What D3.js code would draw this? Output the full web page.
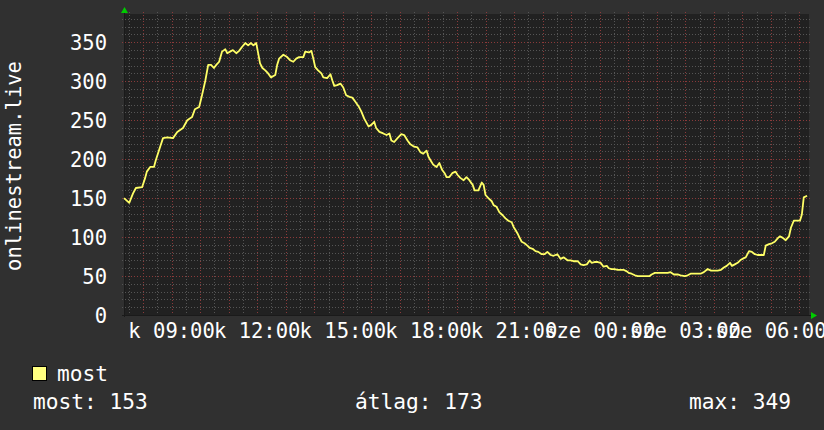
<!DOCTYPE html>
<html>
<head>
<meta charset="utf-8">
<script src="https://cdn.jsdelivr.net/npm/d3@7/dist/d3.min.js"></script>
<style>
html,body{margin:0;padding:0;background:#303030;}
svg{display:block;}
text{font-family:"DejaVu Sans Mono",monospace;fill:#ffffff;}
</style>
</head>
<body>
<svg id="chart" width="824" height="430"></svg>
<script>
// ---- data ----
const minutesFromStart = [0,11,19,25,38,44,48,55,63,67,76,82,91,103,112,124,133,143,149,158,164,171,177,183,189,194,200,206,213,217,223,229,236,242,248,255,261,267,272,278,282,286,291,297,303,309,318,322,326,335,343,349,356,362,368,377,381,389,394,398,402,408,415,419,427,434,438,442,448,455,461,467,474,480,486,493,499,505,514,520,526,530,537,545,552,558,562,568,575,583,589,596,602,610,617,623,629,636,640,644,650,657,663,669,674,678,684,690,697,701,707,714,720,726,733,737,745,752,756,760,766,773,777,783,789,796,802,808,815,819,823,827,831,836,842,848,853,859,865,871,878,884,890,897,903,911,918,924,933,939,945,954,960,966,973,979,983,989,996,1002,1008,1015,1019,1025,1031,1038,1044,1050,1057,1061,1067,1074,1080,1086,1093,1099,1105,1109,1116,1122,1128,1135,1143,1149,1156,1164,1170,1179,1185,1191,1198,1206,1212,1219,1227,1234,1240,1248,1255,1261,1267,1274,1278,1284,1290,1297,1303,1307,1314,1320,1326,1332,1339,1345,1349,1356,1362,1368,1375,1379,1385,1391,1398,1402,1408,1415,1421,1425,1429,1436];
const mostValues = [150,144,156,163,164,175,184,190,190,199,216,227,228,227,235,240,250,254,264,267,282,301,321,321,317,321,325,338,341,336,338,340,336,339,344,349,346,349,346,349,336,323,317,314,310,305,308,321,329,334,331,327,325,329,331,331,338,337,339,329,318,314,310,305,304,309,301,294,295,297,292,282,280,279,274,268,261,252,242,244,248,240,235,233,231,233,224,222,227,232,231,224,219,216,215,209,207,211,203,199,193,190,195,186,182,177,177,182,184,180,176,173,177,173,167,160,160,170,167,154,150,146,141,139,132,128,124,121,119,113,109,105,100,94,92,89,86,85,82,81,78,78,81,77,76,78,72,74,70,70,69,69,65,64,65,70,67,68,68,67,62,63,60,59,59,58,58,58,56,54,53,51,50,50,50,50,50,52,54,54,54,54,54,55,52,52,51,50,51,53,53,53,53,55,59,57,57,57,58,61,63,67,63,65,67,71,73,74,82,81,78,77,77,77,89,91,92,94,99,101,99,96,101,112,121,121,121,129,151,153];
const yTickValues = [0,50,100,150,200,250,300,350];
const xTickLabels = ["k 09:00","k 12:00","k 15:00","k 18:00","k 21:00","sze 00:00","sze 03:00","sze 06:00"];
const seriesName = "most";
const yAxisTitle = "onlinestream.live";
const statLabels = ["most: 153","átlag: 173","max: 349"];

// ---- layout ----
const W = 824, H = 430;
const L = 124, R = 809, T = 14, B = 315;
const start = new Date(2024,0,2,7,20);
const end = new Date(2024,0,3,7,20);

const svg = d3.select("#chart");
svg.append("rect").attr("width",W).attr("height",H).attr("fill","#303030");
svg.append("rect").attr("x",L).attr("y",T).attr("width",R-L).attr("height",B-T).attr("fill","#212121");

const x = d3.scaleTime().domain([start,end]).range([L,R]);
const y = d3.scaleLinear().domain([0,386.3]).range([B,T]);

const grid = svg.append("g");
// minor horizontal
d3.range(0,390,10).filter(v=>v%50!==0).forEach(v=>{
  grid.append("line").attr("x1",L-2).attr("x2",R+3).attr("y1",Math.round(y(v))+0.5).attr("y2",Math.round(y(v))+0.5)
    .attr("stroke","#555555").attr("stroke-dasharray","1,2");
});
// minor vertical (30 min)
d3.timeMinute.every(30).range(start,end).filter(d=>d.getMinutes()===30).forEach(d=>{
  const xx = Math.round(x(d))+0.5;
  grid.append("line").attr("x1",xx).attr("x2",xx).attr("y1",T-2).attr("y2",B+2)
    .attr("stroke","#555555").attr("stroke-dasharray","1,2");
});
// major horizontal
yTickValues.forEach(v=>{
  if(v===0) return;
  grid.append("line").attr("x1",L-2).attr("x2",R+3).attr("y1",Math.round(y(v))+0.5).attr("y2",Math.round(y(v))+0.5)
    .attr("stroke","#8a3a3a").attr("stroke-dasharray","1,2");
});
// major vertical (hourly)
d3.timeHour.every(1).range(start,end).forEach(d=>{
  const xx = Math.round(x(d))+0.5;
  grid.append("line").attr("x1",xx).attr("x2",xx).attr("y1",T-2).attr("y2",B+3)
    .attr("stroke","#8a3a3a").attr("stroke-dasharray","1,2");
});

// axes lines
svg.append("line").attr("x1",L-2).attr("x2",R+3).attr("y1",B+0.5).attr("y2",B+0.5).attr("stroke","#1a1a1a");
svg.append("line").attr("x1",L+0.5).attr("x2",L+0.5).attr("y1",T-2).attr("y2",B+2).attr("stroke","#1a1a1a");
// arrows
svg.append("path").attr("d",`M${L-3},13 L${L+4},13 L${L+0.5},7 Z`).attr("fill","#00cc00");
svg.append("path").attr("d",`M${R+2},${B-3} L${R+2},${B+4} L${R+8},${B+0.5} Z`).attr("fill","#00cc00");

// y tick labels
svg.append("g").selectAll("text").data(yTickValues).join("text")
  .attr("x",107).attr("y",d=>y(d)+7.5).attr("text-anchor","end")
  .attr("font-size","20.5px").text(d=>d);

// x tick labels
const tickTimes = d3.timeHour.every(3).range(start,end);
svg.append("g").selectAll("text").data(tickTimes).join("text")
  .attr("x",d=>x(d)).attr("y",338).attr("text-anchor","middle")
  .attr("font-size","20.5px").text((d,i)=>xTickLabels[i]);

// y axis title
svg.append("text").attr("transform","translate(21,166) rotate(-90)")
  .attr("text-anchor","middle").attr("font-size","20.5px").text(yAxisTitle);

// data line
const data = minutesFromStart.map((m,i)=>({t:d3.timeMinute.offset(start,m), v:mostValues[i]}));
svg.append("path").datum(data)
  .attr("d",d3.line().x(d=>x(d.t)).y(d=>y(d.v)).curve(d3.curveLinear))
  .attr("fill","none").attr("stroke","#ffff66").attr("stroke-width",1.8).attr("stroke-linejoin","round");

// legend
svg.append("rect").attr("x",32.5).attr("y",366.5).attr("width",14).attr("height",14)
  .attr("fill","#ffff80").attr("stroke","#000");
svg.append("text").attr("x",57).attr("y",381).attr("font-size","21.2px").text(seriesName);
svg.append("text").attr("x",33).attr("y",409).attr("font-size","21.2px").text(statLabels[0]);
svg.append("text").attr("x",355).attr("y",409).attr("font-size","21.2px").text(statLabels[1]);
svg.append("text").attr("x",689).attr("y",409).attr("font-size","21.2px").text(statLabels[2]);
</script>
</body>
</html>
